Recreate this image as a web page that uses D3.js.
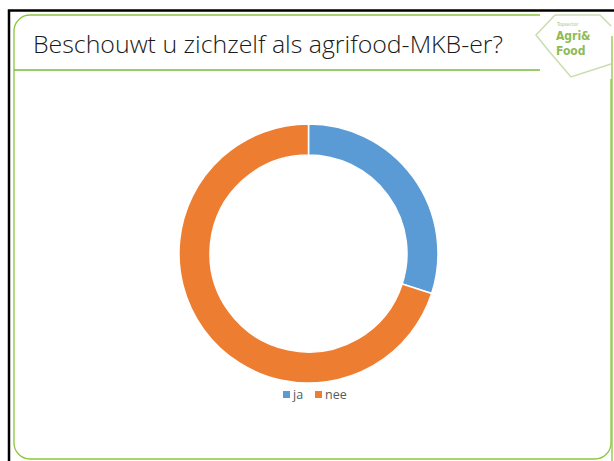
<!DOCTYPE html>
<html>
<head>
<meta charset="utf-8">
<script src="https://cdn.jsdelivr.net/npm/d3@7"></script>
<style>
  body { margin: 0; background: #fff; }
  svg { display: block; }
</style>
</head>
<body>
<div id="chart"></div>
<script>
var title = "Beschouwt u zichzelf als agrifood-MKB-er?";
var categories = ["ja", "nee"];
var values = [30, 70];
var colors = ["#5B9BD5", "#ED7D31"];

var svg = d3.select("#chart").append("svg")
    .attr("width", 614)
    .attr("height", 461);

// slide frame
svg.append("rect")
    .attr("x", 9).attr("y", 10.5)
    .attr("width", 620).attr("height", 470)
    .attr("fill", "none")
    .attr("stroke", "#000")
    .attr("stroke-width", 2.5);

svg.append("rect")
    .attr("x", 14).attr("y", 15)
    .attr("width", 597).attr("height", 444)
    .attr("rx", 16)
    .attr("fill", "#fff")
    .attr("stroke", "#8CC63F")
    .attr("stroke-width", 1.3);

// title underline
svg.append("line")
    .attr("x1", 14).attr("x2", 568)
    .attr("y1", 70).attr("y2", 70)
    .attr("stroke", "#7AB83A")
    .attr("stroke-width", 1.5);

svg.append("text")
    .attr("x", 33)
    .attr("y", 53)
    .attr("textLength", 470)
    .attr("lengthAdjust", "spacingAndGlyphs")
    .style("font-family", "'Open Sans', sans-serif")
    .style("font-weight", 300)
    .style("font-size", "24px")
    .style("fill", "#1a1a1a")
    .text(title);

// logo
var logo = svg.append("g");
logo.append("rect")
    .attr("x", 540).attr("y", 13)
    .attr("width", 74).attr("height", 66)
    .attr("fill", "#fff");
logo.append("path")
    .attr("d", "M555,15 L600,15 L611,26 M611,64 L571,77 L548,50 L536,35 L555,15")
    .attr("fill", "none")
    .attr("stroke", "#C9DDB0")
    .attr("stroke-width", 1.5);
logo.append("line")
    .attr("x1", 612).attr("x2", 612)
    .attr("y1", 36).attr("y2", 461)
    .attr("stroke", "#8CC63F")
    .attr("stroke-width", 1.3);
logo.append("text")
    .attr("x", 557).attr("y", 26)
    .style("font-family", "'DejaVu Sans Condensed', sans-serif")
    .style("font-size", "5px")
    .style("fill", "#9CC46A")
    .text("Topsector");
logo.append("text")
    .attr("x", 556).attr("y", 40)
    .style("font-family", "'DejaVu Sans Condensed', sans-serif")
    .style("font-weight", "bold")
    .style("font-size", "12px")
    .style("fill", "#8DBB55")
    .text("Agri&");
logo.append("text")
    .attr("x", 556).attr("y", 54.5)
    .style("font-family", "'DejaVu Sans Condensed', sans-serif")
    .style("font-weight", "bold")
    .style("font-size", "12px")
    .style("fill", "#8DBB55")
    .text("Food");

// donut
var cx = 308.5, cy = 253.5;
var pie = d3.pie().sort(null).value(function(d){ return d; });
var arc = d3.arc().innerRadius(98.5).outerRadius(129.5);

var g = svg.append("g").attr("transform", "translate(" + cx + "," + cy + ")");
g.selectAll("path")
    .data(pie(values))
    .enter()
    .append("path")
    .attr("d", arc)
    .attr("fill", function(d, i){ return colors[i]; })
    .attr("stroke", "#fff")
    .attr("stroke-width", 1.5);

// legend
var legendX = [283, 315];
var legend = svg.append("g");
legend.selectAll("rect")
    .data(categories)
    .enter()
    .append("rect")
    .attr("x", function(d, i){ return legendX[i]; })
    .attr("y", 391)
    .attr("width", 7)
    .attr("height", 7)
    .attr("fill", function(d, i){ return colors[i]; });
legend.selectAll("text")
    .data(categories)
    .enter()
    .append("text")
    .attr("x", function(d, i){ return legendX[i] + 10; })
    .attr("y", 399)
    .style("font-family", "'Open Sans', sans-serif")
    .style("font-size", "12.5px")
    .style("fill", "#595959")
    .text(function(d){ return d; });
</script>
</body>
</html>
